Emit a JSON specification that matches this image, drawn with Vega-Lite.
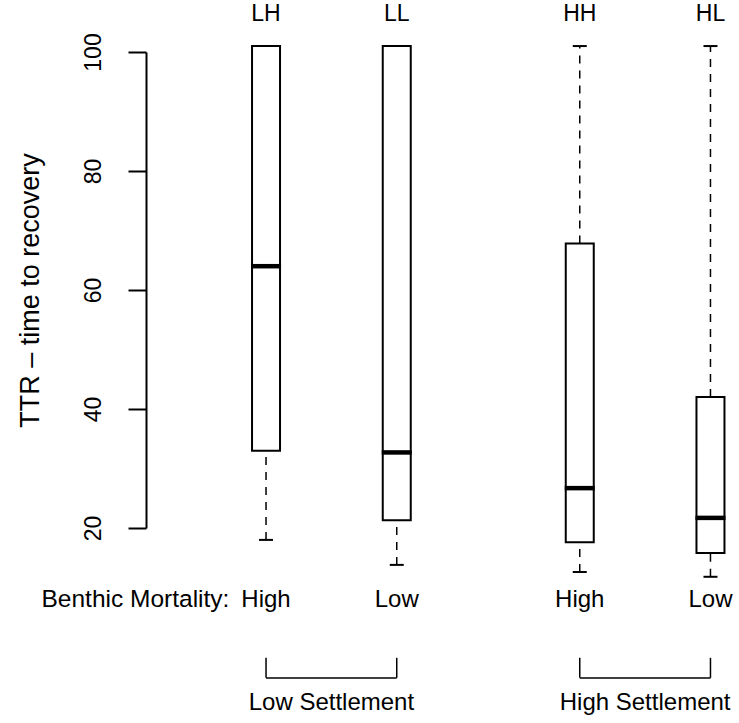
{
  "$schema": "https://vega.github.io/schema/vega-lite/v6.json",
  "width": 593,
  "height": 476,
  "autosize": {"type": "none"},
  "padding": {"left": 146, "top": 52, "right": 0, "bottom": 195},
  "background": "white",
  "config": {
    "font": "Liberation Sans",
    "view": {"stroke": null},
    "axis": {
      "grid": false,
      "domainColor": "black",
      "domainWidth": 2,
      "tickColor": "black",
      "tickWidth": 2,
      "tickSize": 18,
      "labelFontSize": 23,
      "labelColor": "black",
      "labelPadding": 23,
      "titleFontSize": 27,
      "titleFontWeight": "normal",
      "titleColor": "black",
      "titlePadding": 38
    }
  },
  "data": {
    "values": [
      {"group": "LH", "mortality": "High", "settlement": "Low Settlement", "pos": 1, "lower": 18, "q1": 33, "median": 64, "q3": 101, "upper": 101},
      {"group": "LL", "mortality": "Low", "settlement": "Low Settlement", "pos": 2, "lower": 13.8, "q1": 21.3, "median": 32.7, "q3": 101, "upper": 101},
      {"group": "HH", "mortality": "High", "settlement": "High Settlement", "pos": 3.4, "lower": 12.6, "q1": 17.6, "median": 26.7, "q3": 67.8, "upper": 101},
      {"group": "HL", "mortality": "Low", "settlement": "High Settlement", "pos": 4.4, "lower": 11.8, "q1": 15.8, "median": 21.7, "q3": 42, "upper": 101}
    ]
  },
  "layer": [
    {
      "mark": {"type": "rule", "color": "black", "strokeWidth": 1.5, "strokeDash": [8, 7]},
      "encoding": {
        "x": {"field": "pos", "type": "quantitative", "scale": {"domain": [0.12, 4.58], "nice": false, "zero": false}, "axis": null},
        "y": {
          "field": "lower", "type": "quantitative",
          "scale": {"domain": [20, 100], "nice": false, "zero": false},
          "axis": {"values": [20, 40, 60, 80, 100], "labelAngle": 270},
          "title": "TTR \u2013 time to recovery"
        },
        "y2": {"field": "q1"}
      }
    },
    {
      "mark": {"type": "rule", "color": "black", "strokeWidth": 1.5, "strokeDash": [8, 7]},
      "encoding": {
        "x": {"field": "pos", "type": "quantitative"},
        "y": {"field": "q3", "type": "quantitative", "title": "TTR \u2013 time to recovery"},
        "y2": {"field": "upper"}
      }
    },
    {
      "mark": {"type": "rule", "color": "black", "strokeWidth": 2, "xOffset": -7, "x2Offset": 7},
      "encoding": {
        "x": {"field": "pos", "type": "quantitative"},
        "x2": {"field": "pos"},
        "y": {"field": "lower", "type": "quantitative", "title": "TTR \u2013 time to recovery"}
      }
    },
    {
      "mark": {"type": "rule", "color": "black", "strokeWidth": 2, "xOffset": -7, "x2Offset": 7},
      "encoding": {
        "x": {"field": "pos", "type": "quantitative"},
        "x2": {"field": "pos"},
        "y": {"field": "upper", "type": "quantitative", "title": "TTR \u2013 time to recovery"}
      }
    },
    {
      "mark": {"type": "bar", "width": 28, "fill": "white", "stroke": "black", "strokeWidth": 2},
      "encoding": {
        "x": {"field": "pos", "type": "quantitative"},
        "y": {"field": "q1", "type": "quantitative", "title": "TTR \u2013 time to recovery"},
        "y2": {"field": "q3"}
      }
    },
    {
      "mark": {"type": "rule", "color": "black", "strokeWidth": 4.5, "xOffset": -15, "x2Offset": 15},
      "encoding": {
        "x": {"field": "pos", "type": "quantitative"},
        "x2": {"field": "pos"},
        "y": {"field": "median", "type": "quantitative", "title": "TTR \u2013 time to recovery"}
      }
    },
    {
      "mark": {"type": "text", "baseline": "middle", "align": "center", "fontSize": 23, "color": "black"},
      "encoding": {
        "x": {"field": "pos", "type": "quantitative"},
        "y": {"datum": 106.4, "type": "quantitative"},
        "text": {"field": "group", "type": "nominal"}
      }
    },
    {
      "mark": {"type": "text", "baseline": "middle", "align": "center", "fontSize": 24, "color": "black"},
      "encoding": {
        "x": {"field": "pos", "type": "quantitative"},
        "y": {"datum": 7.9, "type": "quantitative"},
        "text": {"field": "mortality", "type": "nominal"}
      }
    },
    {
      "transform": [
        {"aggregate": [{"op": "count", "as": "n"}]}
      ],
      "mark": {"type": "text", "baseline": "middle", "align": "right", "fontSize": 24.5, "color": "black", "text": "Benthic Mortality:"},
      "encoding": {
        "x": {"datum": 0.72, "type": "quantitative"},
        "y": {"datum": 7.9, "type": "quantitative"}
      }
    },
    {
      "mark": {"type": "tick", "orient": "vertical", "size": 20, "thickness": 1.5, "color": "black", "opacity": 1},
      "encoding": {
        "x": {"field": "pos", "type": "quantitative"},
        "y": {"datum": -3.5, "type": "quantitative"}
      }
    },
    {
      "transform": [
        {"aggregate": [{"op": "min", "field": "pos", "as": "lo"}, {"op": "max", "field": "pos", "as": "hi"}], "groupby": ["settlement"]}
      ],
      "mark": {"type": "rule", "color": "black", "strokeWidth": 1.5},
      "encoding": {
        "x": {"field": "lo", "type": "quantitative"},
        "x2": {"field": "hi"},
        "y": {"datum": -5.2, "type": "quantitative"}
      }
    },
    {
      "transform": [
        {"aggregate": [{"op": "mean", "field": "pos", "as": "mid"}], "groupby": ["settlement"]}
      ],
      "mark": {"type": "text", "baseline": "middle", "align": "center", "fontSize": 24, "color": "black"},
      "encoding": {
        "x": {"field": "mid", "type": "quantitative"},
        "y": {"datum": -9.4, "type": "quantitative"},
        "text": {"field": "settlement", "type": "nominal"}
      }
    }
  ]
}
